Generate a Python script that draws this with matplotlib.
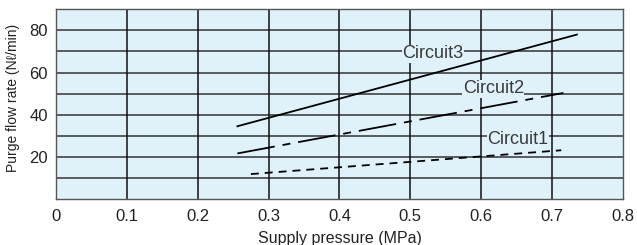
import matplotlib
matplotlib.use("Agg")
import matplotlib.pyplot as plt

# Data
c3_x = [0.256, 0.735]
c3_y = [34.5, 78.0]
c2_x = [0.256, 0.716]
c2_y = [21.6, 50.3]
c1_x = [0.275, 0.713]
c1_y = [11.8, 23.1]
labels = ["Circuit3", "Circuit2", "Circuit1"]
label_pos = [(0.532, 68.9), (0.617, 52.2), (0.652, 28.3)]
xticks = [0, 0.1, 0.2, 0.3, 0.4, 0.5, 0.6, 0.7, 0.8]
xticklabels = ["0", "0.1", "0.2", "0.3", "0.4", "0.5", "0.6", "0.7", "0.8"]
yticks = [20, 40, 60, 80]
ygrid = [10, 20, 30, 40, 50, 60, 70, 80]

plt.rcParams['font.family'] = ['Liberation Sans', 'DejaVu Sans']
bg = '#dff2fa'
txt = '#222222'

fig = plt.figure(figsize=(6.37, 2.45), dpi=100)
ax = fig.add_axes([0.0879, 0.188, 0.890, 0.774])
ax.set_facecolor(bg)
ax.set_xlim(0, 0.8)
ax.set_ylim(0, 90)

for g in ygrid:
    ax.axhline(g, color='#333333', lw=1.1, zorder=1)
for g in xticks[1:-1]:
    ax.axvline(g, color='#111111', lw=1.1, zorder=1)

ax.plot(c3_x, c3_y, color='black', lw=1.3, zorder=3)
ax.plot(c2_x, c2_y, color='black', lw=1.3, zorder=3, linestyle=(0, (21, 4.4, 4.4, 4.4)))
ax.plot(c1_x, c1_y, color='black', lw=1.3, zorder=3, linestyle=(0, (4.4, 3.3)))

for lab, (lx, ly) in zip(labels, label_pos):
    ax.text(lx, ly, lab, ha='center', va='center', fontsize=13, color='#3a3a3a', zorder=4,
            bbox=dict(facecolor=bg, edgecolor='none', pad=0.3))

ax.set_xticks(xticks)
ax.set_xticklabels(xticklabels, fontsize=12, color=txt)
ax.set_yticks(yticks)
ax.set_yticklabels([str(v) for v in yticks], fontsize=12, color=txt)
ax.tick_params(axis='x', length=0, pad=7)
ax.tick_params(axis='y', length=0, pad=6)
for s in ax.spines.values():
    s.set_color('#555555')
    s.set_linewidth(1.0)

ax.set_xlabel("Supply pressure (MPa)", fontsize=11.5, color=txt, labelpad=5)
ax.set_ylabel("Purge flow rate (N\u2113/min)", fontsize=10,
              color=txt, labelpad=3)
ax.yaxis.set_label_coords(-0.0635, 0.534)

fig.savefig("out.png", dpi=100)
